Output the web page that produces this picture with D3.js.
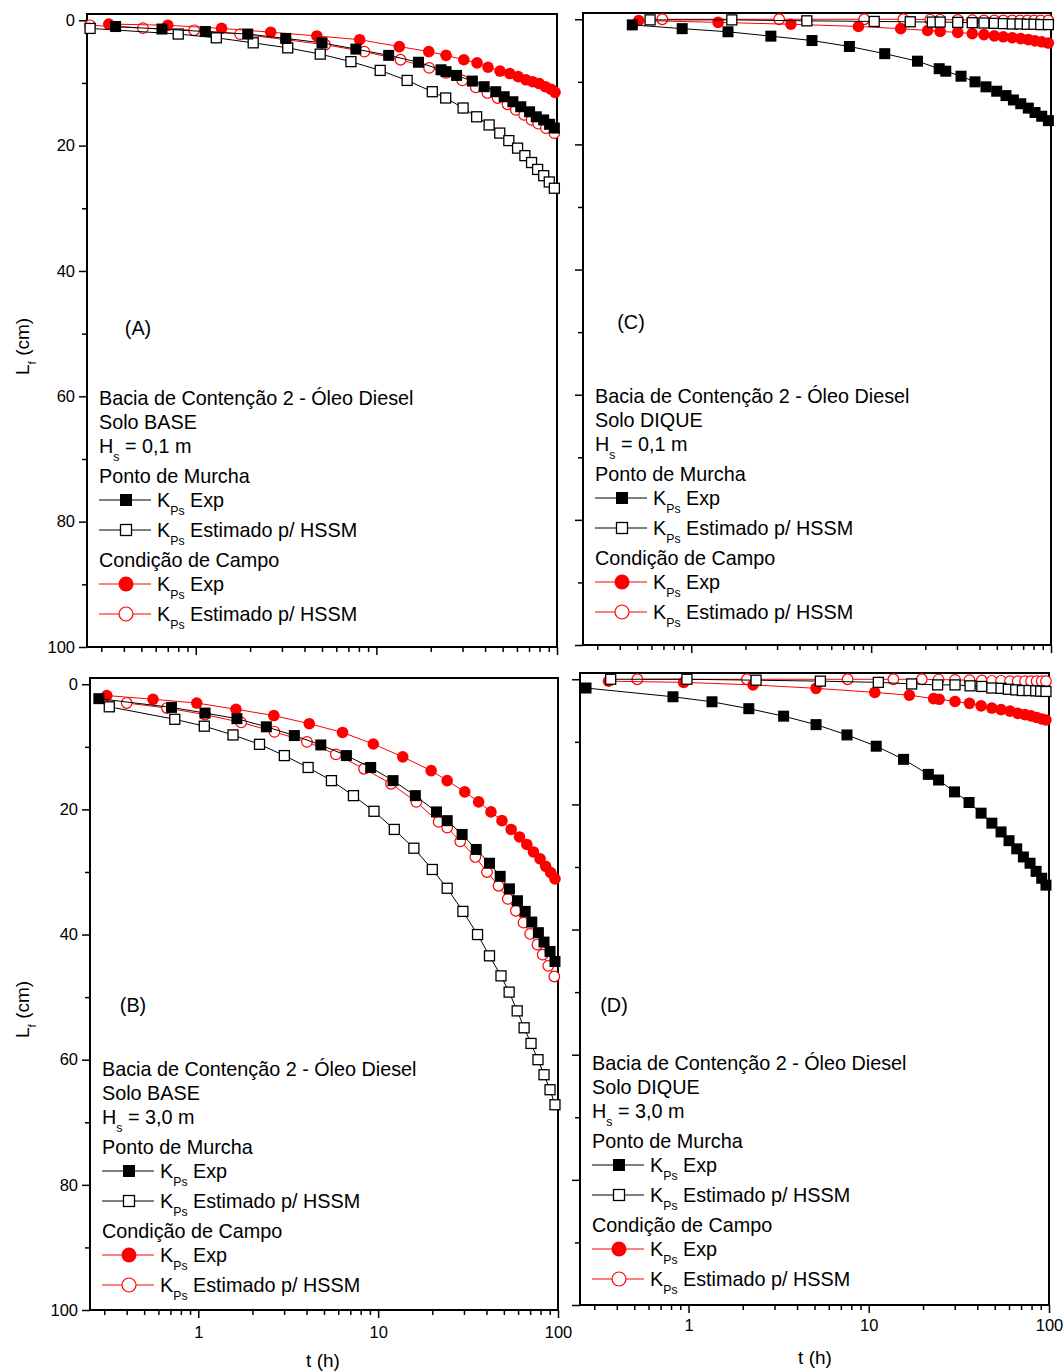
<!DOCTYPE html>
<html>
<head>
<meta charset="utf-8">
<script src="https://cdn.jsdelivr.net/npm/d3@7/dist/d3.min.js"></script>
<style>
body { margin: 0; background: #fff; }
svg text { font-family: "Liberation Sans", Arial, sans-serif; fill: #000; }
</style>
</head>
<body>
<div id="chart"></div>
<script>
// tick values
var xMajor = [1, 10, 100];
var xMinor = [0.3, 0.4, 0.5, 0.6, 0.7, 0.8, 0.9, 2, 3, 4, 5, 6, 7, 8, 9, 20, 30, 40, 50, 60, 70, 80, 90];
var yMajor = [0, 20, 40, 60, 80, 100];
var yMinor = [10, 30, 50, 70, 90];

// (A) Solo BASE, Hs = 0,1 m
var tA_pmExp = [0.36, 0.65, 1.13, 1.94, 3.15, 5.0, 7.7, 11.7, 17.1, 22.8, 24.3, 27.8, 34, 39.5, 45.8, 51, 57, 63, 70.5, 76.8, 84.4, 91, 96.7];
var lA_pmExp = [1.0, 1.4, 1.8, 2.2, 2.9, 3.6, 4.6, 5.6, 6.7, 7.9, 8.2, 8.8, 9.7, 10.6, 11.4, 12.2, 13.0, 13.8, 14.6, 15.4, 15.9, 16.6, 17.2];
var tA_pmEst = [0.26, 0.80, 1.30, 2.08, 3.23, 4.89, 7.23, 10.5, 14.8, 20.4, 24.2, 30.2, 35.9, 42.1, 48.2, 54.1, 60.5, 66.4, 72.3, 78.1, 84.4, 90.6, 96.7];
var lA_pmEst = [1.3, 2.2, 2.8, 3.6, 4.4, 5.4, 6.6, 8.0, 9.6, 11.4, 12.4, 14.0, 15.4, 16.7, 18.0, 19.2, 20.4, 21.6, 22.7, 23.8, 24.8, 25.8, 26.8];
var tA_ccExp = [0.33, 0.70, 1.39, 2.6, 4.68, 8.08, 13.4, 19.5, 24.3, 30.5, 36.1, 41.5, 48.4, 54.8, 61, 67.3, 73.3, 79.7, 86.1, 92.6, 97.5];
var lA_ccExp = [0.6, 0.8, 1.3, 1.9, 2.5, 3.1, 4.2, 5.0, 5.6, 6.3, 6.8, 7.5, 8.1, 8.5, 9.0, 9.5, 9.8, 10.1, 10.6, 11.0, 11.5];
var tA_ccEst = [0.26, 0.51, 0.98, 1.76, 3.15, 5.2, 8.58, 13.6, 19.6, 24.3, 29.9, 35.5, 41.2, 46.9, 53.2, 59.2, 65.8, 72.3, 78.7, 86.8, 96.6];
var lA_ccEst = [0.8, 1.25, 1.6, 2.2, 3.1, 3.9, 5.0, 6.3, 7.6, 8.4, 9.6, 10.7, 11.6, 12.4, 13.4, 14.3, 15.1, 15.9, 16.5, 17.2, 18.0];

// (B) Solo BASE, Hs = 3,0 m
var tB_pmExp = [0.28, 0.71, 1.09, 1.64, 2.39, 3.42, 4.8, 6.66, 9.09, 12.1, 16.1, 21.1, 24.2, 29.3, 35.1, 41.6, 47.7, 53.7, 59.5, 65.7, 71.5, 77.8, 83.6, 90.3, 96.2];
var lB_pmExp = [2.3, 3.7, 4.6, 5.5, 6.8, 8.2, 9.7, 11.4, 13.3, 15.4, 17.8, 20.4, 21.8, 24.0, 26.4, 28.6, 30.7, 32.7, 34.6, 36.3, 38.0, 39.7, 41.2, 42.7, 44.3];
var tB_pmEst = [0.32, 0.74, 1.08, 1.56, 2.19, 3.01, 4.08, 5.5, 7.29, 9.48, 12.3, 15.8, 20, 24.2, 29.6, 35.7, 41.6, 48.2, 53.5, 59.3, 64.8, 70.8, 77.4, 83.6, 90.3, 96.2];
var lB_pmEst = [3.6, 5.6, 6.7, 8.1, 9.6, 11.4, 13.3, 15.4, 17.8, 20.3, 23.2, 26.2, 29.6, 32.6, 36.3, 40.0, 43.4, 46.6, 49.2, 52.2, 54.9, 57.4, 60.0, 62.4, 64.8, 67.2];
var tB_ccExp = [0.31, 0.56, 0.98, 1.62, 2.63, 4.14, 6.34, 9.4, 13.7, 19.7, 24.2, 30.3, 36.2, 42.4, 48.8, 54.9, 61.1, 67.1, 73, 79.5, 85.4, 91.1, 96.2];
var lB_ccExp = [1.8, 2.4, 3.0, 4.0, 5.0, 6.3, 7.7, 9.55, 11.6, 13.8, 15.4, 17.2, 18.8, 20.4, 21.8, 23.2, 24.4, 25.6, 26.8, 27.9, 29.1, 30.1, 31.1];
var tB_ccEst = [0.40, 0.67, 1.09, 1.73, 2.65, 4.02, 5.82, 8.35, 11.8, 16.3, 21.7, 24.2, 28.6, 34.7, 40.3, 46.7, 52.6, 58.3, 64.3, 70, 76.8, 82.2, 88.3, 95.4];
var lB_ccEst = [3.0, 3.8, 4.85, 6.1, 7.6, 9.2, 11.2, 13.5, 15.9, 18.8, 22.0, 22.9, 25.1, 27.6, 30.0, 32.2, 34.3, 36.2, 38.1, 39.9, 41.6, 43.2, 45.0, 46.7];

// (C) Solo DIQUE, Hs = 0,1 m
var tC_pmExp = [0.47, 0.89, 1.60, 2.77, 4.69, 7.57, 11.9, 18.1, 23.9, 26, 31.6, 37.8, 43.5, 49.9, 56.2, 61.8, 67.9, 74.8, 81.5, 88.8, 96.7];
var lC_pmExp = [0.9, 1.5, 2.0, 2.7, 3.4, 4.35, 5.5, 6.7, 7.9, 8.3, 9.1, 10.0, 10.8, 11.5, 12.2, 12.9, 13.5, 14.2, 14.9, 15.5, 16.2];
var tC_pmEst = [0.59, 1.68, 4.39, 10.4, 16.5, 21.9, 24.2, 30.3, 36.5, 42.4, 48.4, 54.3, 60.9, 67.3, 73.8, 80.5, 87.7, 96.7];
var lC_pmEst = [0.1, 0.1, 0.25, 0.35, 0.4, 0.45, 0.45, 0.5, 0.55, 0.6, 0.65, 0.7, 0.75, 0.75, 0.8, 0.8, 0.85, 0.85];
var tC_ccExp = [0.51, 1.41, 3.58, 8.5, 14.6, 20.6, 24.2, 30.3, 36.5, 42.4, 48.4, 54.3, 60.9, 67.9, 74.8, 81.5, 88.8, 96.7];
var lC_ccExp = [0.2, 0.5, 0.8, 1.15, 1.5, 1.8, 1.95, 2.1, 2.3, 2.45, 2.65, 2.8, 2.95, 3.1, 3.25, 3.45, 3.6, 3.8];
var tC_ccEst = [0.69, 3.08, 9.15, 15.1, 21.3, 24.2, 30.3, 36.5, 42.4, 48.4, 54.3, 60.9, 67.3, 73.8, 80.5, 87.7, 96.7];
var lC_ccEst = [0, 0, 0, 0, 0.05, 0.05, 0.1, 0.15, 0.2, 0.2, 0.2, 0.2, 0.2, 0.2, 0.2, 0.2, 0.2];

// (D) Solo DIQUE, Hs = 3,0 m
var tD_pmExp = [0.27, 0.82, 1.35, 2.16, 3.37, 5.1, 7.57, 11.0, 15.6, 21.4, 24.4, 29.9, 36, 42, 48.2, 54.2, 60, 66.2, 72.1, 78.5, 84.8, 91.1, 96.2];
var lD_pmExp = [1.4, 2.8, 3.6, 4.7, 5.9, 7.25, 8.9, 10.7, 12.8, 15.2, 16.1, 18.0, 19.7, 21.4, 23.0, 24.4, 25.8, 27.1, 28.4, 29.4, 30.7, 31.8, 32.9];
var tD_pmEst = [0.37, 0.98, 2.37, 5.39, 11.3, 17.3, 24.1, 30.1, 36.5, 42.4, 48.2, 54.2, 59.5, 65.4, 71.2, 77.5, 84.4, 89.9, 96.2];
var lD_pmEst = [0, 0, 0.15, 0.3, 0.5, 0.75, 0.9, 0.9, 1.05, 1.15, 1.4, 1.45, 1.6, 1.7, 1.8, 1.8, 1.85, 1.9, 1.95];
var tD_ccExp = [0.36, 0.94, 2.28, 5.1, 10.8, 16.8, 22.9, 24.6, 30.1, 36.2, 42, 48.2, 54.2, 60.8, 67.1, 73.6, 79.5, 85.4, 91.1, 96.2];
var lD_ccExp = [0.3, 0.5, 0.9, 1.45, 2.1, 2.55, 3.1, 3.2, 3.55, 3.85, 4.25, 4.6, 4.85, 5.1, 5.45, 5.65, 5.85, 6.1, 6.35, 6.5];
var tD_ccEst = [0.52, 2.11, 7.63, 13.7, 19.7, 24.4, 30.1, 36.2, 42.4, 48.2, 54.2, 60.8, 67.1, 73.6, 79.5, 85.4, 91.1, 96.2];
var lD_ccEst = [0, 0, 0, 0, 0, 0.05, 0.1, 0.15, 0.2, 0.25, 0.25, 0.3, 0.3, 0.3, 0.3, 0.3, 0.3, 0.3];

function pts(t, l) {
    return t.map(function(d, i) { return {t: d, l: l[i]}; });
}

var panels = [
    {left: 87, top: 14, w: 470, h: 633, xlab: false, ylab: true, name: "(A)", nx: 138, ny: 328, legY: 398, solo: "Solo BASE", hs: " = 0,1 m",
     pmExp: pts(tA_pmExp, lA_pmExp), pmEst: pts(tA_pmEst, lA_pmEst), ccExp: pts(tA_ccExp, lA_ccExp), ccEst: pts(tA_ccEst, lA_ccEst)},
    {left: 90, top: 678, w: 468, h: 632, xlab: true, ylab: true, name: "(B)", nx: 133, ny: 1005, legY: 1069, solo: "Solo BASE", hs: " = 3,0 m",
     pmExp: pts(tB_pmExp, lB_pmExp), pmEst: pts(tB_pmEst, lB_pmEst), ccExp: pts(tB_ccExp, lB_ccExp), ccEst: pts(tB_ccEst, lB_ccEst)},
    {left: 583, top: 13, w: 468, h: 632, xlab: false, ylab: false, name: "(C)", nx: 631, ny: 322, legY: 396, solo: "Solo DIQUE", hs: " = 0,1 m",
     pmExp: pts(tC_pmExp, lC_pmExp), pmEst: pts(tC_pmEst, lC_pmEst), ccExp: pts(tC_ccExp, lC_ccExp), ccEst: pts(tC_ccEst, lC_ccEst)},
    {left: 580, top: 673, w: 469, h: 632, xlab: true, ylab: false, name: "(D)", nx: 614, ny: 1005, legY: 1063, solo: "Solo DIQUE", hs: " = 3,0 m",
     pmExp: pts(tD_pmExp, lD_pmExp), pmEst: pts(tD_pmEst, lD_pmEst), ccExp: pts(tD_ccExp, lD_ccExp), ccEst: pts(tD_ccEst, lD_ccEst)}
];

var svg = d3.select("#chart").append("svg")
    .attr("width", 1064)
    .attr("height", 1372);

var FS = 19.8; // legend font size

// marker drawing
function marker(g, kind, cx, cy, big) {
    var s = big ? 12 : 11;
    var r = big ? 7.5 : 5.8;
    if (kind === "pmExp") {
        g.append("rect").attr("x", cx - s / 2).attr("y", cy - s / 2).attr("width", s).attr("height", s).attr("fill", "#000");
    } else if (kind === "pmEst") {
        g.append("rect").attr("x", cx - (s - 1) / 2).attr("y", cy - (s - 1) / 2).attr("width", s - 1).attr("height", s - 1)
            .attr("fill", "#fff").attr("stroke", "#000").attr("stroke-width", 1.3);
    } else if (kind === "ccExp") {
        g.append("circle").attr("cx", cx).attr("cy", cy).attr("r", r).attr("fill", "#ff0000");
    } else {
        g.append("circle").attr("cx", cx).attr("cy", cy).attr("r", r - 0.5).attr("fill", "#fff").attr("stroke", "#ff0000").attr("stroke-width", 1.2);
    }
}

function lineColor(kind) {
    return (kind === "pmExp" || kind === "pmEst") ? "#000" : "#ff0000";
}

// text with a subscript in it: parts = [[text, sub?], ...]
function subText(g, x, y, parts, size) {
    var t = g.append("text").attr("x", x).attr("y", y).attr("font-size", size);
    var down = false;
    parts.forEach(function(p) {
        var ts = t.append("tspan").text(p[0]);
        if (p[1] && !down) { ts.attr("dy", size * 0.38).attr("font-size", size * 0.62); down = true; }
        else if (!p[1] && down) { ts.attr("dy", -size * 0.38); down = false; }
    });
    return t;
}

panels.forEach(function(p) {
    var x = d3.scaleLog().domain([0.25, 100]).range([p.left, p.left + p.w]);
    var y = d3.scaleLinear().domain([-1, 100]).range([p.top, p.top + p.h]);
    var g = svg.append("g");

    // axes
    var bottom = p.top + p.h;
    g.append("g").attr("transform", "translate(0," + bottom + ")")
        .call(d3.axisBottom(x).tickValues(xMajor).tickSize(8).tickPadding(p.top > 600 && p.left > 500 ? 6 : 8)
            .tickFormat(function(d) { return p.xlab ? d3.format("d")(d) : ""; }));
    g.append("g").attr("transform", "translate(0," + bottom + ")")
        .call(d3.axisBottom(x).tickValues(xMinor).tickSize(5).tickFormat(""));
    g.append("g").attr("transform", "translate(" + p.left + ",0)")
        .call(d3.axisLeft(y).tickValues(yMajor).tickSize(8).tickPadding(4)
            .tickFormat(function(d) { return p.ylab ? d : ""; }));
    g.append("g").attr("transform", "translate(" + p.left + ",0)")
        .call(d3.axisLeft(y).tickValues(yMinor).tickSize(5).tickFormat(""));
    g.selectAll(".domain").remove();
    g.selectAll(".tick line").attr("stroke", "#000").attr("stroke-width", 1.5);
    g.selectAll(".tick text").attr("font-size", 16.5).attr("font-family", "Liberation Sans, Arial, sans-serif");

    g.append("rect")
        .attr("x", p.left).attr("y", p.top).attr("width", p.w).attr("height", p.h)
        .attr("fill", "none").attr("stroke", "#000").attr("stroke-width", 2);

    // series, drawn back to front
    ["ccEst", "ccExp", "pmEst", "pmExp"].forEach(function(kind) {
        var data = p[kind];
        g.append("path")
            .datum(data)
            .attr("fill", "none")
            .attr("stroke", lineColor(kind))
            .attr("stroke-width", 1)
            .attr("d", d3.line().x(function(d) { return x(d.t); }).y(function(d) { return y(d.l); }));
        data.forEach(function(d) { marker(g, kind, x(d.t), y(d.l), false); });
    });

    // panel letter
    g.append("text").attr("x", p.nx).attr("y", p.ny + 7).attr("text-anchor", "middle").attr("font-size", FS).text(p.name);

    // legend
    var lx = p.left + 12;
    var ly = p.legY;
    g.append("text").attr("x", lx).attr("y", ly + 7).attr("font-size", FS).text("Bacia de Contenção 2 - Óleo Diesel");
    g.append("text").attr("x", lx).attr("y", ly + 31).attr("font-size", FS).text(p.solo);
    subText(g, lx, ly + 55, [["H"], ["s", true], [p.hs]], FS);
    g.append("text").attr("x", lx).attr("y", ly + 85).attr("font-size", FS).text("Ponto de Murcha");
    g.append("text").attr("x", lx).attr("y", ly + 169).attr("font-size", FS).text("Condição de Campo");
    var rows = [["pmExp", 102, " Exp"], ["pmEst", 132, " Estimado p/ HSSM"], ["ccExp", 186, " Exp"], ["ccEst", 216, " Estimado p/ HSSM"]];
    rows.forEach(function(r) {
        var cy = ly + r[1];
        g.append("line").attr("x1", lx).attr("x2", lx + 52).attr("y1", cy).attr("y2", cy)
            .attr("stroke", lineColor(r[0])).attr("stroke-width", 1);
        marker(g, r[0], lx + 27, cy, true);
        subText(g, lx + 58, cy + 7, [["K"], ["Ps", true], [r[2]]], FS);
    });
});

// axis titles
subText(svg.append("g").attr("transform", "translate(29,345) rotate(-90)"), 0, 0, [["L"], ["f", true], [" (cm)"]], 19)
    .attr("x", -30);
subText(svg.append("g").attr("transform", "translate(29,1008) rotate(-90)"), 0, 0, [["L"], ["f", true], [" (cm)"]], 19)
    .attr("x", -30);
svg.append("text").attr("x", 323).attr("y", 1367).attr("text-anchor", "middle").attr("font-size", 19).text("t (h)");
svg.append("text").attr("x", 815).attr("y", 1364).attr("text-anchor", "middle").attr("font-size", 19).text("t (h)");
</script>
</body>
</html>
